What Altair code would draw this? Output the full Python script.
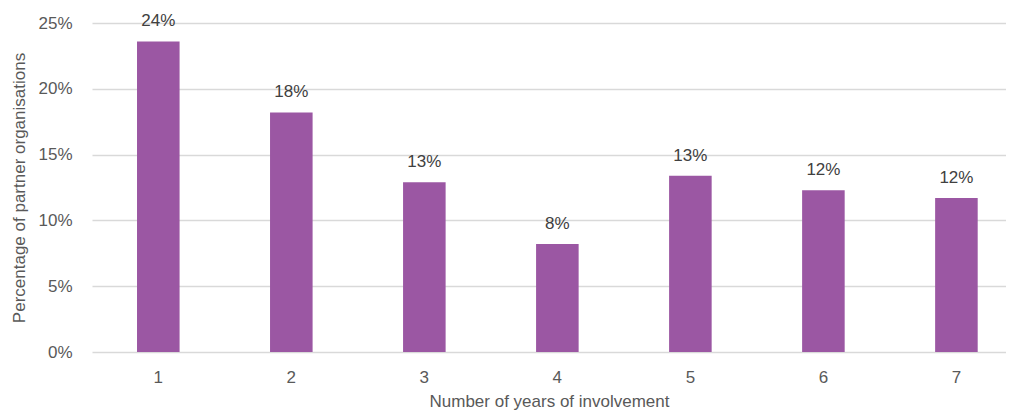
import altair as alt
import pandas as pd

# Data
years = ["1", "2", "3", "4", "5", "6", "7"]
shares = [0.236, 0.182, 0.129, 0.082, 0.134, 0.123, 0.117]

df = pd.DataFrame({"year": years, "share": shares})

FONT = "Liberation Sans"
AXIS_GREY = "#595959"
BAR_COLOR = "#9B57A3"

x_enc = alt.X(
    "year:O",
    sort=years,
    title="Number of years of involvement",
    scale=alt.Scale(paddingInner=0.68, paddingOuter=0.2756, align=0.614),
    axis=alt.Axis(
        labelAngle=0,
        ticks=False,
        domain=False,
        grid=False,
        labelPadding=17,
        titlePadding=8,
        labelFont=FONT,
        titleFont=FONT,
        labelFontSize=17,
        titleFontSize=17,
        labelColor=AXIS_GREY,
        titleColor=AXIS_GREY,
        titleFontWeight="normal",
    ),
)

y_enc = alt.Y(
    "share:Q",
    title="Percentage of partner organisations",
    scale=alt.Scale(domain=[0, 0.25], nice=False),
    axis=alt.Axis(
        values=[0, 0.05, 0.10, 0.15, 0.20, 0.25],
        format=".0%",
        ticks=False,
        domain=False,
        grid=True,
        gridColor="#D9D9D9",
        gridWidth=1.3,
        labelPadding=20,
        labelFont=FONT,
        titleFont=FONT,
        labelFontSize=17,
        titleFontSize=17,
        labelColor=AXIS_GREY,
        titleColor=AXIS_GREY,
        titleFontWeight="normal",
        titleX=-73,
        titleY=164.5,
        titleAngle=270,
        titleAlign="center",
        titleBaseline="middle",
    ),
)

base = alt.Chart(df)

bars = base.mark_bar(color=BAR_COLOR).encode(x=x_enc, y=y_enc)

labels = base.mark_text(
    dy=-15,
    baseline="alphabetic",
    align="center",
    font=FONT,
    fontSize=17,
    color="#404040",
).encode(
    x=alt.X("year:O", sort=years),
    y=alt.Y("share:Q"),
    text=alt.Text("share:Q", format=".0%"),
)

chart = (
    alt.layer(bars, labels)
    .properties(
        width=914,
        height=329,
        autosize=alt.AutoSizeParams(type="none"),
        padding={"left": 84, "top": 15, "right": 0, "bottom": 58},
        background="white",
    )
    .configure_view(stroke=None)
)

chart.save("out.html", embed_options={"renderer": "svg", "actions": False})
